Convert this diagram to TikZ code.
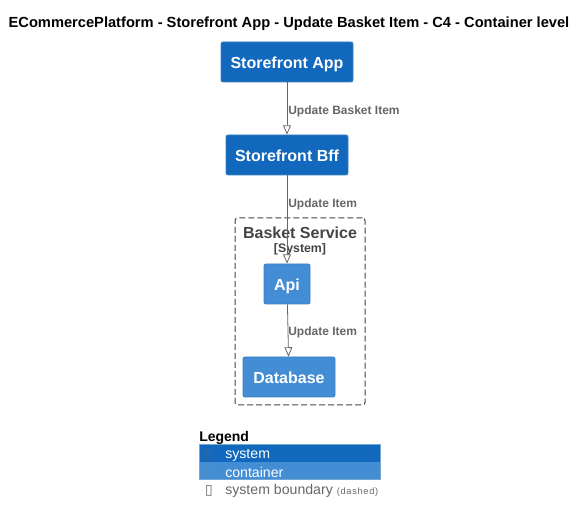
\documentclass[tikz,border=0pt]{standalone}
\usepackage{fontspec}
\setmainfont{Liberation Sans}
\newfontfamily\symfont{DejaVu Sans}
\usetikzlibrary{arrows.meta}
\definecolor{sysblue}{HTML}{1168BD}
\definecolor{sysborder}{HTML}{3C7FC0}
\definecolor{contblue}{HTML}{438DD5}
\definecolor{contborder}{HTML}{3C7FC0}
\definecolor{relgray}{HTML}{666666}
\definecolor{bndgray}{HTML}{444444}
\definecolor{tofuone}{HTML}{3A6A9C}
\definecolor{tofutwo}{HTML}{5B8CBF}
\tikzset{
  boxbase/.style={rounded corners=1.5pt, text=white, font=\bfseries\fontsize{12pt}{14pt}\selectfont, inner sep=0pt, line width=0.6pt, text height=11.5pt, text depth=2.1pt},
  sysbox/.style={boxbase, draw=sysborder, fill=sysblue},
  contbox/.style={boxbase, draw=contborder, fill=contblue},
  rel/.style={draw=relgray, line width=0.6pt, -{Triangle[open, length=7pt, width=6pt]}},
  rellabel/.style={text=relgray, font=\bfseries\fontsize{9pt}{11pt}\selectfont, anchor=west, inner sep=0pt},
  boundary/.style={draw=bndgray, dash pattern=on 4.5pt off 2.25pt, rounded corners=2pt, line width=0.75pt},
  legtext/.style={anchor=west, inner sep=0pt, font=\fontsize{10.6pt}{12pt}\selectfont},
  tofu/.style={anchor=center, inner sep=0pt, font=\symfont\fontsize{10.5pt}{12pt}\selectfont}
}
\begin{document}
\begin{tikzpicture}[x=0.75pt, y=-0.75pt]
\useasboundingbox (0,0) rectangle (586,523);
\node[font=\bfseries\fontsize{11pt}{13pt}\selectfont, inner sep=0pt] (title) at (289,24) {ECommercePlatform - Storefront App - Update Basket Item - C4 - Container level};

\node[boundary, minimum width=97.5pt, minimum height=140.25pt] (bnd) at (300,311.5) {};
\node[text=bndgray, font=\bfseries\fontsize{12pt}{14pt}\selectfont, inner sep=0pt] (bndtitle) at (300,232.5) {Basket Service};
\node[text=bndgray, font=\bfseries\fontsize{9.25pt}{11pt}\selectfont, inner sep=0pt] (bndtype) at (300,249.5) {[System]};

\node[sysbox, minimum width=99pt, minimum height=30pt] (app) at (287,62) {Storefront App};
\node[sysbox, minimum width=91.5pt, minimum height=30pt] (bff) at (287,155) {Storefront Bff};
\node[contbox, minimum width=34.5pt, minimum height=30pt] (api) at (287,284) {Api};
\node[contbox, minimum width=69pt, minimum height=30pt] (db) at (289,377) {Database};

\draw[rel] (app) -- (bff);
\node[rellabel] (l1) at (288,111.5) {Update Basket Item};
\draw[rel] (bff) -- (api);
\node[rellabel] (l2) at (288,204.5) {Update Item};
\draw[rel] (api) -- (db);
\node[rellabel] (l3) at (288,332.5) {Update Item};

% Legend
\node[font=\bfseries\fontsize{10.5pt}{12pt}\selectfont, anchor=west, inner sep=0pt] (legend) at (199,437.5) {Legend};
\fill[sysblue] (199,444) rectangle (380,462);
\fill[contblue] (199,462) rectangle (380,479);
\draw[contborder!70!white, line width=0.5pt] (199,444) rectangle (380,479);
\node[tofu, text=tofuone] (g1) at (209,455) {▯};
\node[tofu, text=tofutwo] (g2) at (209,472) {▯};
\node[tofu, text=relgray] (g3) at (209,491) {▯};
\node[legtext, text=white] (t1) at (225,455.5) {system};
\node[legtext, text=white] (t2) at (225,472.5) {container};
\node[legtext, text=relgray] (t3) at (225,491) {system boundary {\fontsize{6.9pt}{8pt}\selectfont\addfontfeature{LetterSpace=8}(dashed)}};
\end{tikzpicture}
\end{document}
